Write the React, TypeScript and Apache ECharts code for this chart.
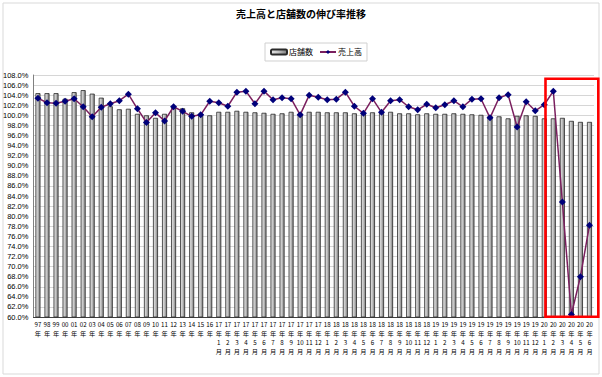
import React, { useEffect, useRef } from "react";
import * as echarts from "echarts";

const yearLabels = ["97", "98", "99", "00", "01", "02", "03", "04", "05", "06", "07", "08", "09", "10", "11", "12", "13", "14", "15", "16"];
const monthYears = ["17", "18", "19"];
const months2020 = 6;

const categories: string[] = [
  ...yearLabels.map((y) => `${y}年`),
  ...monthYears.flatMap((y) => Array.from({ length: 12 }, (_, m) => `${y}年${m + 1}月`)),
  ...Array.from({ length: months2020 }, (_, m) => `20年${m + 1}月`),
];

const storeYears = [104.4, 104.4, 104.4, 103.3, 104.6, 105.0, 104.3, 103.5, 101.8, 101.2, 101.3, 100.3, 100.0, 99.5, 100.3, 101.5, 101.4, 100.6, 100.3, 100.0];
const store2017 = [100.7, 100.7, 100.9, 100.7, 100.6, 100.5, 100.3, 100.4, 100.7, 100.4, 100.7, 100.7];
const store2018 = [100.6, 100.6, 100.6, 100.4, 100.4, 100.6, 100.5, 100.7, 100.4, 100.4, 100.2, 100.4];
const store2019 = [100.3, 100.3, 100.4, 100.3, 100.2, 100.1, 99.9, 99.8, 99.4, 99.9, 100.0, 99.9];
const store2020 = [99.4, 99.4, 99.5, 98.9, 98.7, 98.7];

const salesYears = [103.4, 102.5, 102.4, 102.8, 103.3, 101.7, 99.7, 101.6, 102.3, 102.9, 104.2, 101.3, 98.6, 100.5, 98.9, 101.7, 100.8, 99.8, 100.1, 102.8];
const sales2017 = [102.5, 101.8, 104.6, 104.8, 102.3, 104.8, 103.1, 103.5, 103.3, 100.1, 104.0, 103.6];
const sales2018 = [103.1, 103.2, 104.6, 101.8, 100.4, 103.3, 100.6, 102.9, 103.1, 101.7, 101.1, 102.2];
const sales2019 = [101.5, 102.1, 102.9, 101.7, 103.2, 103.3, 99.5, 103.5, 104.1, 97.7, 102.7, 100.9];
const sales2020 = [102.1, 104.8, 82.8, 60.5, 68.0, 78.2];

const storeData = [...storeYears, ...store2017, ...store2018, ...store2019, ...store2020];
const salesData = [...salesYears, ...sales2017, ...sales2018, ...sales2019, ...sales2020];

const FONT = "'Noto Sans CJK JP', 'Noto Sans', sans-serif";

export default function App() {
  const ref = useRef<HTMLDivElement>(null);
  useEffect(() => {
    if (!ref.current) return;
    const chart = echarts.init(ref.current, null, { renderer: "svg" });
    chart.setOption({
      animation: false,
      backgroundColor: "#ffffff",
      textStyle: { fontFamily: FONT },
      title: {
        text: "売上高と店舗数の伸び率推移",
        left: "center",
        top: 3,
        textStyle: { fontSize: 10, fontWeight: "bold", color: "#000", fontFamily: FONT },
      },
      legend: {
        left: 265,
        top: 43,
        padding: [5, 5],
        itemGap: 6,
        itemWidth: 16,
        itemHeight: 5,
        borderColor: "#d0d0d0",
        borderWidth: 1,
        textStyle: { fontSize: 8, color: "#000", fontFamily: FONT, padding: [0, 0, 0, -3] },
        data: [
          { name: "店舗数", icon: "roundRect" },
          { name: "売上高" },
        ],
      },
      grid: { left: 30.7, right: 8, top: 75, bottom: 60, containLabel: false },
      xAxis: {
        type: "category",
        data: categories,
        boundaryGap: true,
        axisLine: { lineStyle: { color: "#404040", width: 1 } },
        axisTick: { show: false },
        axisLabel: {
          interval: 0,
          fontSize: 6.2,
          lineHeight: 9,
          margin: 3,
          color: "#000",
          fontFamily: FONT,
          formatter: (v: string) => {
            const m = v.match(/^(\d+)年(?:(\d+)月)?$/);
            if (!m) return v;
            return m[2] ? `${m[1]}\n年\n${m[2]}\n月` : `${m[1]}\n年`;
          },
        },
        splitLine: { show: false },
      },
      yAxis: {
        type: "value",
        min: 60,
        max: 108,
        interval: 2,
        axisLine: { show: true, lineStyle: { color: "#808080", width: 1 } },
        axisTick: { show: false },
        axisLabel: {
          fontSize: 7.5,
          margin: 5,
          color: "#000",
          fontFamily: "'Liberation Sans', Arial, sans-serif",
          formatter: (v: number) => v.toFixed(1) + "%",
        },
        splitLine: { show: true, lineStyle: { color: "#d6d6d6", width: 1 } },
      },
      series: [
        {
          name: "店舗数",
          type: "bar",
          data: storeData,
          barWidth: 5,
          itemStyle: {
            color: new echarts.graphic.LinearGradient(0, 0, 1, 0, [
              { offset: 0, color: "#e6e6e6" },
              { offset: 0.45, color: "#c4c4c4" },
              { offset: 1, color: "#7c7c7c" },
            ]),
            borderColor: "#2a2a2a",
            borderWidth: 0.8,
          },
          z: 2,
        },
        {
          name: "売上高",
          type: "line",
          data: salesData,
          symbol: "diamond",
          symbolSize: 7,
          lineStyle: { color: "#7a1f5e", width: 1.5 },
          itemStyle: { color: "#00007a" },
          z: 3,
        },
      ],
      graphic: [
        {
          type: "rect",
          shape: { x: 3, y: 3, width: 596, height: 371 },
          style: { fill: "none", stroke: "#d9d9d9", lineWidth: 1 },
          silent: true,
        },
        {
          type: "rect",
          shape: { x: 545.5, y: 78.8, width: 52.8, height: 238 },
          style: { fill: "none", stroke: "#ff0000", lineWidth: 2.6 },
          silent: true,
          z: 100,
        },
      ],
    });
    return () => chart.dispose();
  }, []);
  return (
    <div
      ref={ref}
      style={{ position: "fixed", left: 0, top: 0, width: 602, height: 377 }}
    />
  );
}
